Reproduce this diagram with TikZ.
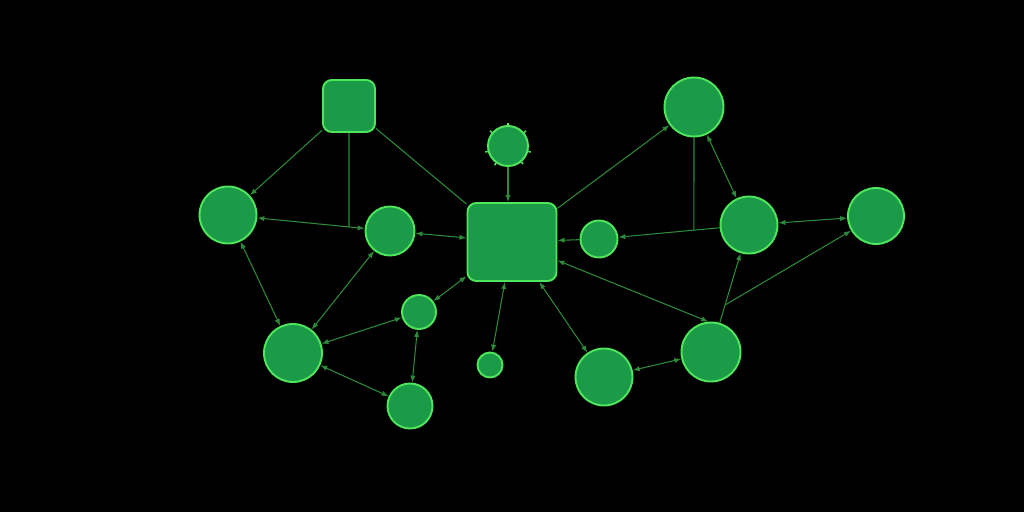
\documentclass[tikz,border=0pt]{standalone}
\usepackage{tikz}
\usetikzlibrary{calc,arrows.meta}

\definecolor{nodefill}{HTML}{1B9A48}
\definecolor{nodeline}{HTML}{4FE65C}
\definecolor{wire}{HTML}{2C8A3A}

\begin{document}
\begin{tikzpicture}[>={Latex[length=4pt,width=3pt]},
	blob/.style={circle,fill=nodefill,draw=nodeline,line width=1.1pt,inner sep=0pt},
	box/.style={rectangle,rounded corners=5pt,fill=nodefill,draw=nodeline,line width=1.1pt,inner sep=0pt},
	wire/.style={draw=wire,line width=0.6pt}]
	
	% black canvas
	\fill[black] (0,0) rectangle (20.48,10.24);
	
	% the two square nodes
	\node[box,minimum width=1.04cm,minimum height=1.04cm] (top) at (6.98,8.12) {};
	\node[box,minimum width=1.78cm,minimum height=1.56cm] (hub) at (10.24,5.40) {};
	
	% circles on the left
	\node[blob,minimum size=1.14cm] (c1) at (4.56,5.94) {};
	\node[blob,minimum size=0.98cm] (c2) at (7.80,5.62) {};
	\node[blob,minimum size=1.16cm] (c7) at (5.86,3.18) {};
	\node[blob,minimum size=0.68cm] (c8) at (8.38,4.00) {};
	\node[blob,minimum size=0.90cm] (c9) at (8.20,2.12) {};
	\node[blob,minimum size=0.50cm] (c10) at (9.80,2.94) {};
	
	% spiked circle above the hub
	\node[blob,minimum size=0.80cm] (spk) at (10.16,7.32) {};
	\foreach \a in {-15,40,90,140,195,235,270,310}
		\draw[nodeline,line width=0.9pt] (spk.\a) -- ($(spk.center)!1.12!(spk.\a)$);
	
	% circles on the right
	\node[blob,minimum size=0.74cm] (c3) at (11.98,5.46) {};
	\node[blob,minimum size=1.18cm] (c4) at (13.88,8.10) {};
	\node[blob,minimum size=1.14cm] (c5) at (14.98,5.74) {};
	\node[blob,minimum size=1.12cm] (c6) at (17.52,5.92) {};
	\node[blob,minimum size=1.14cm] (c11) at (12.08,2.70) {};
	\node[blob,minimum size=1.18cm] (c12) at (14.22,3.20) {};
	
	% points where a line meets another line
	\coordinate (j1) at ($(c1)!.747!(c2)$);
	\coordinate (j2) at ($(c5)!.367!(c3)$);
	\coordinate (j3) at ($(c12)!.37!(c5)$);
	
	% left part
	\draw[wire,->] (top) -- (c1);
	\draw[wire] (top) -- (j1);
	\draw[wire] (top) -- (hub);
	\draw[wire,<->] (c1) -- (c2);
	\draw[wire,<->] (c2) -- (hub);
	\draw[wire,<->] (c1) -- (c7);
	\draw[wire,<->] (c2) -- (c7);
	\draw[wire,<->] (c8) -- (c7);
	\draw[wire,<->] (c7) -- (c9);
	\draw[wire,<->] (c8) -- (c9);
	\draw[wire,<->] (hub) -- (c8);
	\draw[wire,<->] (hub) -- (c10);
	\draw[wire,->] (spk) -- (spk |- hub.north);
	
	% right part
	\draw[wire,->] (hub) -- (c4);
	\draw[wire,->] (c3) -- (hub);
	\draw[wire,->] (c5) -- (c3);
	\draw[wire] (c4) -- (j2);
	\draw[wire,<->] (c4) -- (c5);
	\draw[wire,<->] (c5) -- (c6);
	\draw[wire,->] (c12) -- (c5);
	\draw[wire,->] (j3) -- (c6);
	\draw[wire,<->] (hub) -- (c12.95);
	\draw[wire,<->] (hub) -- (c11);
	\draw[wire,<->] (c11) -- (c12);
	
\end{tikzpicture}
\end{document}
